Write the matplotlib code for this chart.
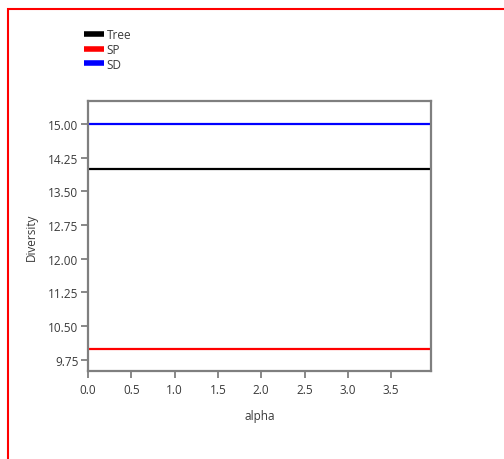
import matplotlib
matplotlib.use("Agg")
import matplotlib.pyplot as plt
from matplotlib.patches import Rectangle

# values
alpha = [0.0, 3.96]
tree = [14.0, 14.0]
sp = [10.0, 10.0]
sd = [15.0, 15.0]
series_names = ["Tree", "SP", "SD"]
series_colors = ["#000000", "#ff0000", "#0000ff"]
yticks = [9.75, 10.50, 11.25, 12.00, 12.75, 13.50, 14.25, 15.00]
xticks = [0.0, 0.5, 1.0, 1.5, 2.0, 2.5, 3.0, 3.5]

plt.rcParams["font.family"] = ["Open Sans", "DejaVu Sans"]
gray = "#7f7f7f"
txt = "#3a3a3a"
fs = 8.5

fig = plt.figure(figsize=(5.04, 4.6), dpi=100)
ax = fig.add_axes([88 / 504, 88 / 460, 343 / 504, 270 / 460])

for ys, name, col in zip([tree, sp, sd], series_names, series_colors):
    ax.plot(alpha, ys, color=col, lw=1.6, label=name, solid_capstyle="butt")

ax.set_xlim(0, 3.96)
ax.set_ylim(9.5, 15.51)
ax.set_xticks(xticks)
ax.set_xticklabels([f"{v:.1f}" for v in xticks])
ax.set_yticks(yticks)
ax.set_yticklabels([f"{v:.2f}" for v in yticks])
for s in ax.spines.values():
    s.set_color(gray)
    s.set_linewidth(1.6)
ax.tick_params(direction="out", length=5, width=1.3, color=gray,
               labelsize=fs, labelcolor=txt, pad=2)
ax.tick_params(axis="x", pad=4)
ax.set_xlabel("alpha", fontsize=fs, color=txt, labelpad=9)
ax.set_ylabel("Diversity", fontsize=fs, color=txt, labelpad=7)

handles = [plt.Line2D([], [], color=c, lw=4, solid_capstyle="butt")
           for c in series_colors]
leg = fig.legend(handles=handles, labels=series_names, loc="upper left",
                 bbox_to_anchor=(75.5 / 504, 1 - 21 / 460), frameon=False,
                 fontsize=fs, handlelength=1.7, handletextpad=0.25,
                 labelspacing=0.14, borderpad=0.2)
for t in leg.get_texts():
    t.set_color(txt)

# red frame, only top and left edges visible
fig.patches.append(Rectangle((8 / 504, -0.1), 1.2, 1 - 10 / 460 + 0.1,
                             transform=fig.transFigure, fill=False,
                             edgecolor="#ff0000", lw=1.5))

fig.savefig("out.png", dpi=100)
